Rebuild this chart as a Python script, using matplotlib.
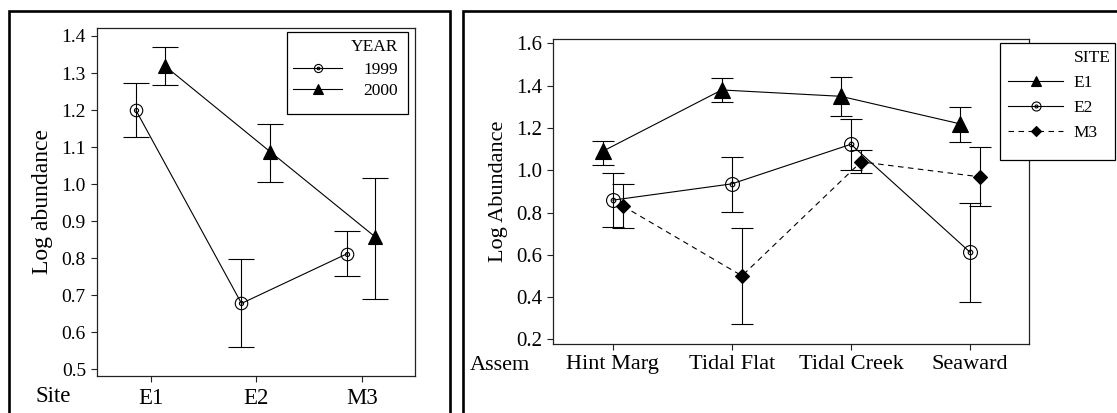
import matplotlib
matplotlib.use('Agg')
import matplotlib.pyplot as plt
import numpy as np
from matplotlib.path import Path
from matplotlib.patches import Rectangle

plt.rcParams['font.family'] = ['Liberation Serif', 'DejaVu Serif']

# left panel: log abundance by site and year
sites = ['E1', 'E2', 'M3']
mean_1999 = [1.199, 0.678, 0.812]
lo_1999 = [1.128, 0.560, 0.751]
hi_1999 = [1.272, 0.797, 0.874]
mean_2000 = [1.320, 1.088, 0.857]
lo_2000 = [1.268, 1.007, 0.690]
hi_2000 = [1.371, 1.163, 1.017]

# right panel: log abundance by assemblage and site
assem = ['Hint Marg', 'Tidal Flat', 'Tidal Creek', 'Seaward']
mean_e1 = [1.090, 1.380, 1.350, 1.220]
lo_e1 = [1.027, 1.322, 1.255, 1.136]
hi_e1 = [1.140, 1.437, 1.443, 1.299]
mean_e2 = [0.859, 0.936, 1.123, 0.613]
lo_e2 = [0.731, 0.803, 1.002, 0.379]
hi_e2 = [0.987, 1.063, 1.245, 0.847]
mean_m3 = [0.831, 0.501, 1.040, 0.969]
lo_m3 = [0.726, 0.271, 0.988, 0.831]
hi_m3 = [0.936, 0.726, 1.096, 1.109]

# circle with a small ring inside
ring = Path.make_compound_path(Path.circle((0, 0), 1.0), Path.circle((0, 0), 0.33))

W, H = 1117, 413
fig = plt.figure(figsize=(W / 100, H / 100), dpi=100)


def fx(px):
    return px / W


def fy(py):
    return 1 - py / H


def err(mean, lo, hi):
    m = np.array(mean)
    return [m - np.array(lo), np.array(hi) - m]


def eb(ax, x, mean, lo, hi, marker, ms, cap, ls='-', mfc='k'):
    c = ax.errorbar(x, mean, yerr=err(mean, lo, hi), color='k', lw=0.8,
                    ls=ls, marker=marker, ms=ms, mfc=mfc, mec='k', mew=0.8,
                    elinewidth=0.8, capsize=cap, capthick=0.8)
    return c.lines[0]


def style(ax):
    for s in ax.spines.values():
        s.set_linewidth(0.9)
        s.set_color('#222222')
    ax.tick_params(direction='out', length=4.5, width=0.8, colors='#222222',
                   labelcolor='k')


def legend_box(x0, y0, x1, y1, title, tx, ty, handles, labels, lx, ly,
               hlen, hpad, lsp):
    fig.add_artist(Rectangle((fx(x0), fy(y1)), fx(x1 - x0), (y1 - y0) / H,
                             transform=fig.transFigure, fc='white', ec='k',
                             lw=0.9, zorder=2))
    fig.text(fx(tx), fy(ty), title, fontsize=12.5, ha='right', va='center',
             zorder=3)
    fig.legend(handles, labels, loc='center left', bbox_to_anchor=(fx(lx), fy(ly)),
               borderaxespad=0, borderpad=0, frameon=False, fontsize=12.5,
               handlelength=hlen, handletextpad=hpad, labelspacing=lsp,
               markerscale=0.65)


# ---- left panel
ax1 = fig.add_axes([fx(97), fy(376), 318 / W, 348 / H])
x = np.arange(len(sites))
h1 = eb(ax1, x - 0.14, mean_1999, lo_1999, hi_1999, ring, 9, 9.2, mfc='none')
h2 = eb(ax1, x + 0.13, mean_2000, lo_2000, hi_2000, '^', 10.5, 9.2)
ax1.set_xlim(-0.51, 2.505)
ax1.set_ylim(0.482, 1.4216)
ax1.set_xticks(x)
ax1.set_xticklabels(sites, fontsize=16.5)
ax1.set_yticks(np.arange(0.5, 1.41, 0.1))
ax1.set_yticklabels(['%.1f' % v for v in np.arange(0.5, 1.41, 0.1)], fontsize=14)
ax1.tick_params(axis='x', pad=4)
style(ax1)
ax1.set_ylabel('Log abundance', fontsize=17, labelpad=6)
fig.text(fx(53), fy(397), 'Site', fontsize=16.5, ha='center', va='center')
legend_box(286.7, 31.7, 407.7, 114, 'YEAR', 398.3, 47.3, [h1, h2],
           ['1999', '2000'], 292.7, 80.4, 2.86, 1.21, 0.28)

# ---- right panel
ax2 = fig.add_axes([fx(553.3), fy(343.5), 475.7 / W, 304.5 / H])
x = np.arange(len(assem))
g1 = eb(ax2, x - 0.085, mean_e1, lo_e1, hi_e1, '^', 11, 7.8)
g2 = eb(ax2, x, mean_e2, lo_e2, hi_e2, ring, 10, 7.8, mfc='none')
g3 = eb(ax2, x + 0.085, mean_m3, lo_m3, hi_m3, 'D', 7.6, 7.8, ls=(0, (5, 4)))
ax2.set_xlim(-0.5, 3.496)
ax2.set_ylim(0.181, 1.621)
ax2.set_xticks(x)
ax2.set_xticklabels(assem, fontsize=16)
ax2.set_yticks(np.arange(0.2, 1.61, 0.2))
ax2.set_yticklabels(['%.1f' % v for v in np.arange(0.2, 1.61, 0.2)], fontsize=15)
ax2.tick_params(axis='x', pad=4)
style(ax2)
ax2.set_ylabel('Log Abundance', fontsize=16, labelpad=6)
fig.text(fx(500), fy(365), 'Assem', fontsize=16, ha='center', va='center')
legend_box(1000, 42.7, 1115, 160, 'SITE', 1110.7, 58.3, [g1, g2, g3],
           ['E1', 'E2', 'M3'], 1008, 107.7, 3.17, 0.58, 0.5)

# outer frames of the two panels
fig.add_artist(Rectangle((fx(9.3), -0.2), fx(449.7 - 9.3), 1.2 - 11.3 / H,
                         transform=fig.transFigure, fill=False, lw=1.9,
                         ec='k', clip_on=False))
fig.add_artist(Rectangle((fx(463.3), -0.2), 0.6, 1.2 - 11.3 / H,
                         transform=fig.transFigure, fill=False, lw=1.9,
                         ec='k', clip_on=False))

fig.savefig('out.png', dpi=100)
